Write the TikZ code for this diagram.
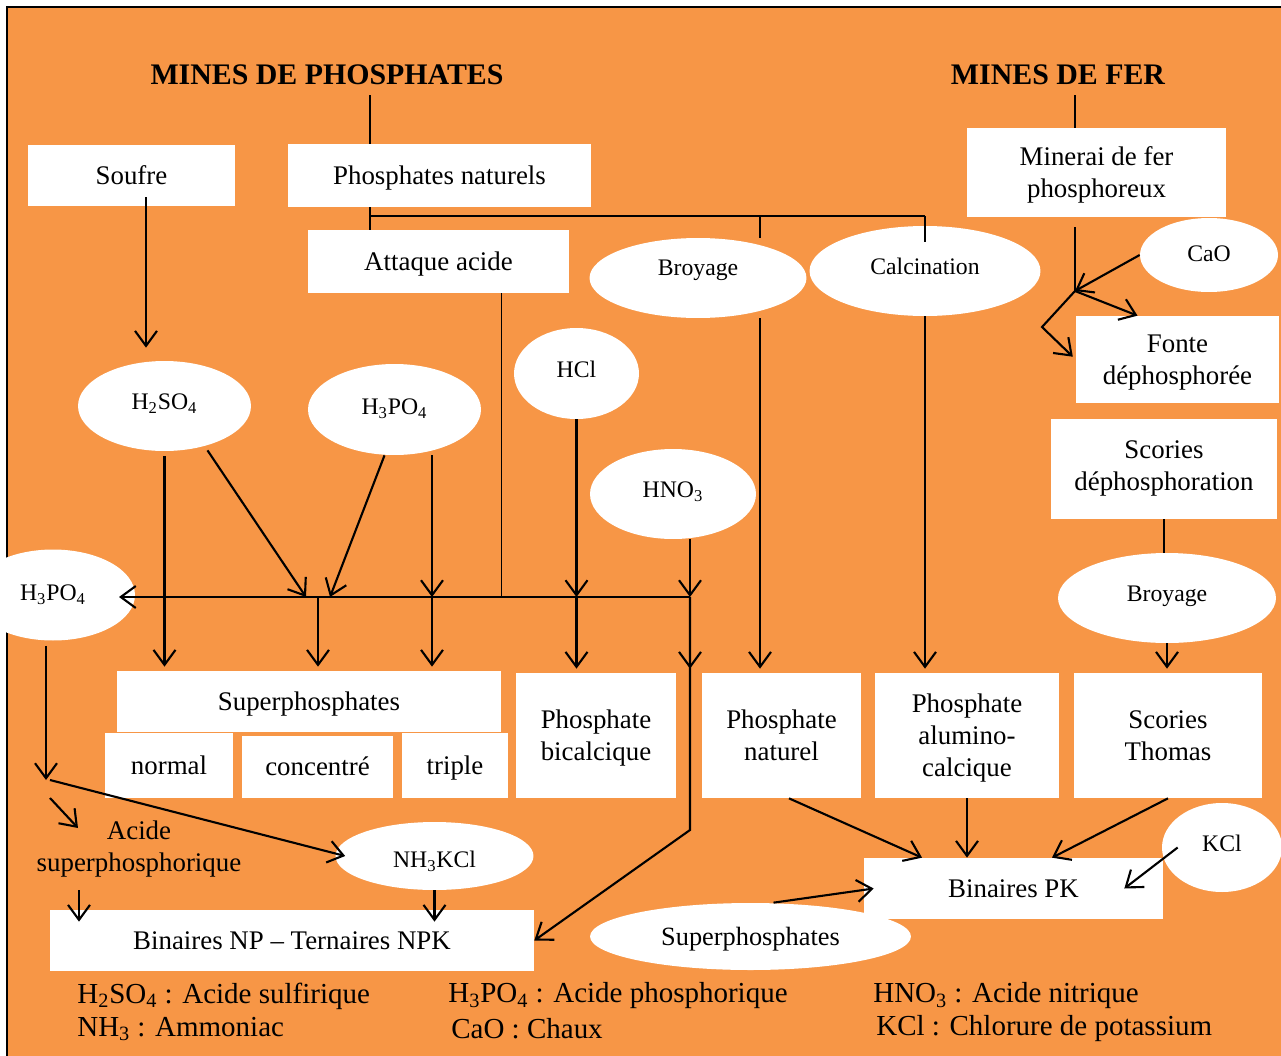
\documentclass[tikz,border=0pt]{standalone}
\usepackage{fontspec}
\setmainfont{Liberation Serif}
\usetikzlibrary{shapes.geometric,arrows.meta}

\definecolor{bgorange}{RGB}{247,150,70}
\newcommand{\lstrut}{\rule[-3.6pt]{0pt}{17.1pt}}

\begin{document}
\begin{tikzpicture}[x=0.02cm, y=-0.02cm,
        >={Straight Barb[length=3mm,width=4.4mm]},
        box/.style={rectangle, fill=white, inner sep=0pt, align=center,
            font=\fontsize{15.3}{18.3}\selectfont,
            execute at begin node={\lstrut}, execute at end node={\lstrut}},
        oval/.style={ellipse, fill=white, inner sep=0pt,
            text height=9.5pt, text depth=5.3pt,
            font=\fontsize{13.5}{16}\selectfont},
        arr/.style={->, line width=1.2pt},
        gap/.style={shorten >=0.08cm},
        link/.style={line width=1pt},
        title/.style={font=\fontsize{17}{20}\selectfont\bfseries},
        legend/.style={anchor=west, inner sep=0pt, font=\fontsize{16.5}{19}\selectfont}]

        \useasboundingbox (0,0) rectangle (1281,1055);
        \clip (0,0) rectangle (1281,1055);
        \draw[fill=bgorange, line width=0.9pt] (7,7) rectangle (1300,1070);

        % Titles
        \node[title] (phostitle) at (327,75) {MINES DE PHOSPHATES};
        \node[title] (fertitle) at (1058,75) {MINES DE FER};

        % Nodes
        \node[box, minimum width=4.14cm, minimum height=1.22cm] (soufre) at (131.5,175.5) {Soufre};
        \node[box, minimum width=6.06cm, minimum height=1.26cm] (phosnat) at (439.5,175.5) {Phosphates naturels};
        \node[box, minimum width=5.22cm, minimum height=1.26cm] (attaque) at (438.5,261.5) {Attaque acide};
        \node[oval, minimum width=4.34cm, minimum height=1.6cm, text depth=11.9pt] (broyage) at (698,278) {Broyage};
        \node[oval, minimum width=4.62cm, minimum height=1.8cm] (calcin) at (925,271) {Calcination};
        \node[box, minimum width=5.18cm, minimum height=1.78cm] (minerai) at (1096.5,172.5) {\lstrut Minerai de fer\\phosphoreux\lstrut};
        \node[oval, minimum width=2.76cm, minimum height=1.48cm, text depth=1.6pt] (cao) at (1209,255) {CaO};
        \node[box, minimum width=4.06cm, minimum height=1.74cm] (fonte) at (1177.5,359.5) {\lstrut Fonte\\déphosphorée\lstrut};
        \node[box, minimum width=4.52cm, minimum height=2cm] (scordeph) at (1164,469) {Scories\\déphosphoration};
        \node[oval, minimum width=4.36cm, minimum height=1.8cm] (broyage2) at (1167,598) {Broyage};

        \node[oval, minimum width=3.46cm, minimum height=1.8cm] (h2so4) at (164.5,406) {H\textsubscript{2}SO\textsubscript{4}};
        \node[oval, minimum width=3.46cm, minimum height=1.82cm, text depth=3.3pt] (h3po4) at (394.5,409.5) {H\textsubscript{3}PO\textsubscript{4}};
        \node[oval, minimum width=2.5cm, minimum height=1.82cm] (hcl) at (576.5,373.5) {HCl};
        \node[oval, minimum width=3.32cm, minimum height=1.8cm] (hno3) at (673,494) {HNO\textsubscript{3}};
        \node[oval, minimum width=3.28cm, minimum height=1.82cm, text depth=2.8pt] (h3po4L) at (53,595) {H\textsubscript{3}PO\textsubscript{4}};

        \node[box, minimum width=7.68cm, minimum height=1.22cm] (superph) at (309,701.5) {Superphosphates};
        \node[box, minimum width=2.56cm, minimum height=1.3cm] (normal) at (169,765.5) {normal};
        \node[box, minimum width=3.02cm, minimum height=1.24cm] (concentre) at (317.5,767) {concentré};
        \node[box, minimum width=2.12cm, minimum height=1.3cm] (triple) at (455,765.5) {triple};
        \node[box, minimum width=3.2cm, minimum height=2.5cm] (bicalc) at (596,735.5) {\lstrut Phosphate\\bicalcique\lstrut};
        \node[box, minimum width=3.18cm, minimum height=2.5cm] (phnat) at (781.5,735.5) {\lstrut Phosphate\\naturel\lstrut};
        \node[box, minimum width=3.68cm, minimum height=2.5cm] (alumino) at (967,735.5) {\lstrut Phosphate\\alumino-\\calcique\lstrut};
        \node[box, minimum width=3.76cm, minimum height=2.5cm] (thomas) at (1168,735.5) {\lstrut Scories\\Thomas\lstrut};

        \node[box, fill=none] (acidesup) at (139,849) {Acide\\superphosphorique};
        \node[oval, minimum width=3.96cm, minimum height=1.36cm, text height=13.5pt, text depth=0pt] (nh3kcl) at (434.5,856) {NH\textsubscript{3}KCl};
        \node[oval, minimum width=2.4cm, minimum height=1.78cm] (kcl) at (1222,847.5) {KCl};
        \node[box, minimum width=9.68cm, minimum height=1.22cm] (binnp) at (292,940.5) {Binaires NP -- Ternaires NPK};
        \node[box, minimum width=5.98cm, minimum height=1.22cm] (binpk) at (1013.5,888.5) {Binaires PK};
        \node[oval, minimum width=6.42cm, minimum height=1.34cm, text height=10.7pt, text depth=0pt,
            font=\fontsize{15}{18}\selectfont] (superph2) at (750.5,936.5) {Superphosphates};

        % Legend
        \node[legend] (lgsulf) at (77,996) {H\textsubscript{2}SO\textsubscript{4} : Acide sulfirique};
        \node[legend] (lgnh3) at (77,1029) {NH\textsubscript{3} : Ammoniac};
        \node[legend] (lgphos) at (448,996) {H\textsubscript{3}PO\textsubscript{4} : Acide phosphorique};
        \node[legend] (lgcao) at (451,1029) {CaO : Chaux};
        \node[legend] (lghno3) at (873,996) {HNO\textsubscript{3} : Acide nitrique};
        \node[legend] (lgkcl) at (876,1029) {KCl : Chlorure de potassium};

        % Junctions
        \coordinate (trunk) at (370,95);
        \coordinate (split) at (370,216);
        \coordinate (brsplit) at (760,216);
        \coordinate (fertrunk) at (1075,95);
        \coordinate (fonteIn) at (1075,291);
        \coordinate (fonteKink) at (1042,327);
        \coordinate (sulfdrop) at (146,197);
        \coordinate (busW) at (119,597);
        \coordinate (busE) at (690,597);
        \coordinate (sulfIn) at (306,597);
        \coordinate (phosIn) at (330,597);
        \coordinate (spDrop) at (318,597);
        \coordinate (h3v) at (432,597);
        \coordinate (attIn) at (501.5,597);
        \coordinate (hclIn) at (hcl.south |- busW);
        \coordinate (npsplit) at (46,780);
        \coordinate (bendNP) at (690,830);
        \coordinate (acidDrop) at (79,890);

        % Edges
        \draw[link] (trunk) -- (trunk |- phosnat.north);
        \draw[link] (trunk |- phosnat.south) -- (trunk |- attaque.north);
        \draw[link] (split) -- (split -| calcin.north);
        \draw[link] (brsplit) -- (brsplit |- broyage.north);
        \draw[link, shorten >=-0.32cm] (split -| calcin.north) -- (calcin.north);

        \draw[link] (fertrunk) -- (fertrunk |- minerai.north);
        \draw[link, shorten <=0.2cm] (fertrunk |- minerai.south) -- (fonteIn);
        \draw[arr] (cao.west) -- (fonteIn);
        \draw[arr] (fonteIn) -- ([xshift=-0.8cm]fonte.north);
        \draw[arr, gap] (fonteIn) -- (fonteKink) -- (fonte.west);
        \draw[link] (scordeph.south) -- (scordeph.south |- broyage2.north);
        \draw[arr, gap] (broyage2.south) -- (broyage2.south |- thomas.north);

        \draw[arr, shorten >=0.26cm] (sulfdrop) -- (sulfdrop |- h2so4.north);
        \draw[arr, gap, shorten <=0.1cm] (h2so4.south) -- (h2so4.south |- superph.north);
        \draw[arr, shorten <=0.1cm] (h2so4.-45) -- (sulfIn);
        \draw[arr] ([xshift=-0.2cm]h3po4.south) -- (phosIn);
        \draw[arr] (h3po4.south -| h3v) -- (h3v);
        \draw[link] (attaque.south -| attIn) -- (attIn);
        \draw[arr] (hcl.south) -- (hclIn);
        \draw[arr] (hno3.south -| busE) -- (busE);
        \draw[arr] (busE) -- (busW);

        \draw[arr, gap] (spDrop) -- (spDrop |- superph.north);
        \draw[arr, gap] (h3v) -- (h3v |- superph.north);
        \draw[arr, gap] (hclIn) -- (hclIn |- bicalc.north);
        \draw[arr] (busE) -- (bendNP) -- (binnp.east);
        \draw[arr, gap] (busE) -- (busE |- bicalc.north);

        \draw[arr, gap] (brsplit |- broyage.south) -- (brsplit |- phnat.north);
        \draw[arr, gap] (calcin.south) -- (calcin.south |- alumino.north);
        \draw[arr] ([xshift=0.15cm]phnat.south) -- ([xshift=-1.83cm]binpk.north);
        \draw[arr] (alumino.south) -- (alumino.south |- binpk.north);
        \draw[arr] (thomas.south) -- ([xshift=0.77cm]binpk.north);
        \draw[arr] ([xshift=0.32cm]kcl.west) -- ([xshift=-0.78cm]binpk.east);
        \draw[arr] ([xshift=0.46cm]superph2.north) -- ([xshift=0.2cm]binpk.west);

        \draw[arr, shorten <=0.1cm] (h3po4L.south -| npsplit) -- (npsplit);
        \draw[arr] ([xshift=0.08cm]npsplit) -- ([xshift=0.2cm]nh3kcl.west);
        \draw[arr] ([xshift=0.08cm,yshift=-0.36cm]npsplit) -- ++(28,30);
        \draw[arr, shorten >=-0.24cm] (acidDrop) -- (acidDrop |- binnp.north);
        \draw[arr, shorten >=-0.24cm] (nh3kcl.south) -- (nh3kcl.south |- binnp.north);

\end{tikzpicture}
\end{document}
